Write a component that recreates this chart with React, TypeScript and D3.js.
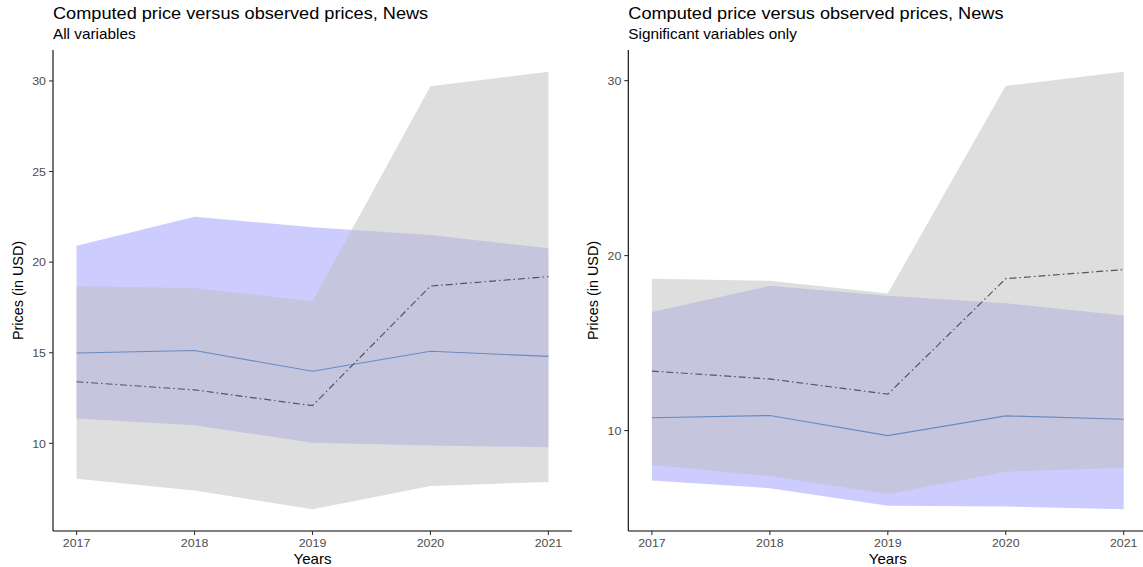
import React from "react";
import * as d3 from "d3";

// Years on the x axis
const years = [2017, 2018, 2019, 2020, 2021];

// Observed prices (same in both panels): range band and mean line
const observedLow = [8.05, 7.4, 6.37, 7.65, 7.87];
const observedHigh = [18.67, 18.56, 17.84, 29.7, 30.5];
const observedPrice = [13.4, 12.95, 12.08, 18.68, 19.2];

// Computed price using all variables
const allLow = [11.37, 11.0, 10.03, 9.88, 9.79];
const allHigh = [20.91, 22.51, 21.93, 21.5, 20.77];
const allPrice = [14.99, 15.12, 13.98, 15.08, 14.8];

// Computed price using significant variables only
const sigLow = [7.14, 6.71, 5.71, 5.66, 5.51];
const sigHigh = [16.77, 18.27, 17.7, 17.28, 16.57];
const sigPrice = [10.73, 10.86, 9.71, 10.84, 10.65];

// Tick labels
const allTicks = [10, 15, 20, 25, 30];
const sigTicks = [10, 20, 30];

const titleText = "Computed price versus observed prices, News";
const subtitleAll = "All variables";
const subtitleSig = "Significant variables only";
const xTitle = "Years";
const yTitle = "Prices (in USD)";

const W = 1143;
const H = 567;
const FONT = "'Liberation Sans', Arial, Helvetica, sans-serif";
const SX = 1.05; // slight horizontal widening of the glyphs

const PANEL_W = 519;
const PANEL_TOP = 50;
const PANEL_BOTTOM = 531;

type TxtProps = {
  x: number;
  y: number;
  size: number;
  anchor?: "start" | "middle" | "end";
  fill?: string;
  rotate?: boolean;
  dy?: string;
  children: React.ReactNode;
};

function Txt({ x, y, size, anchor = "start", fill = "#000", rotate = false, dy, children }: TxtProps) {
  const tf = rotate
    ? `translate(${x},${y}) rotate(-90) scale(1,${SX})`
    : `translate(${x},${y}) scale(${SX},1)`;
  return (
    <text
      transform={tf}
      fontSize={size}
      fontFamily={FONT}
      textAnchor={anchor}
      fill={fill}
      dy={dy}
    >
      {children}
    </text>
  );
}

type PanelProps = {
  x0: number;
  subtitle: string;
  low: number[];
  high: number[];
  price: number[];
  ticks: number[];
};

function Panel({ x0, subtitle, low, high, price, ticks }: PanelProps) {
  const xSpan = d3.extent(years) as [number, number];
  const xPad = (xSpan[1] - xSpan[0]) * 0.05;
  const x = d3
    .scaleLinear()
    .domain([xSpan[0] - xPad, xSpan[1] + xPad])
    .range([x0, x0 + PANEL_W]);

  const allVals = [...low, ...high, ...observedLow, ...observedHigh, ...price, ...observedPrice];
  const yMin = d3.min(allVals) as number;
  const yMax = d3.max(allVals) as number;
  const yPad = (yMax - yMin) * 0.05;
  const y = d3
    .scaleLinear()
    .domain([yMin - yPad, yMax + yPad])
    .range([PANEL_BOTTOM, PANEL_TOP]);

  const idx = years.map((_, i) => i);

  const area = (lo: number[], hi: number[]) =>
    d3
      .area<number>()
      .x((i) => x(years[i]))
      .y0((i) => y(lo[i]))
      .y1((i) => y(hi[i]))(idx) as string;

  const line = (v: number[]) =>
    d3
      .line<number>()
      .x((i) => x(years[i]))
      .y((i) => y(v[i]))(idx) as string;

  const cx = x0 + PANEL_W / 2;
  const cy = (PANEL_TOP + PANEL_BOTTOM) / 2;

  return (
    <g>
      {/* titles */}
      <Txt x={x0} y={19} size={17.3}>
        {titleText}
      </Txt>
      <Txt x={x0} y={39} size={14.6}>
        {subtitle}
      </Txt>

      {/* bands */}
      <path d={area(low, high)} fill="#0000FF" fillOpacity={0.2} />
      <path d={area(observedLow, observedHigh)} fill="#BEBEBE" fillOpacity={0.5} />

      {/* lines */}
      <path d={line(price)} fill="none" stroke="#6A8BC0" strokeWidth={1.1} />
      <path
        d={line(observedPrice)}
        fill="none"
        stroke="#55555F"
        strokeWidth={1.2}
        strokeDasharray="7 3 1.5 3"
      />

      {/* axes */}
      <line x1={x0} x2={x0} y1={PANEL_TOP} y2={PANEL_BOTTOM} stroke="#000" strokeWidth={1.1} />
      <line x1={x0} x2={x0 + PANEL_W} y1={PANEL_BOTTOM} y2={PANEL_BOTTOM} stroke="#000" strokeWidth={1.1} />

      {ticks.map((t) => (
        <g key={`y${t}`}>
          <line x1={x0 - 4} x2={x0} y1={y(t)} y2={y(t)} stroke="#333" strokeWidth={1.1} />
          <Txt x={x0 - 7} y={y(t)} size={11.8} anchor="end" fill="#4D4D4D" dy="0.35em">
            {t}
          </Txt>
        </g>
      ))}
      {years.map((yr) => (
        <g key={`x${yr}`}>
          <line x1={x(yr)} x2={x(yr)} y1={PANEL_BOTTOM} y2={PANEL_BOTTOM + 4} stroke="#333" strokeWidth={1.1} />
          <Txt x={x(yr)} y={547} size={11.8} anchor="middle" fill="#4D4D4D">
            {yr}
          </Txt>
        </g>
      ))}

      <Txt x={cx} y={564} size={14.4} anchor="middle">
        {xTitle}
      </Txt>
      <Txt x={x0 - 30} y={cy} size={14.4} anchor="middle" rotate>
        {yTitle}
      </Txt>
    </g>
  );
}

export default function App() {
  return (
    <svg
      width={W}
      height={H}
      viewBox={`0 0 ${W} ${H}`}
      style={{ position: "absolute", left: 0, top: 0, display: "block", background: "#fff" }}
    >
      <rect width={W} height={H} fill="#fff" />
      <Panel x0={53} subtitle={subtitleAll} low={allLow} high={allHigh} price={allPrice} ticks={allTicks} />
      <Panel x0={628.3} subtitle={subtitleSig} low={sigLow} high={sigHigh} price={sigPrice} ticks={sigTicks} />
    </svg>
  );
}
